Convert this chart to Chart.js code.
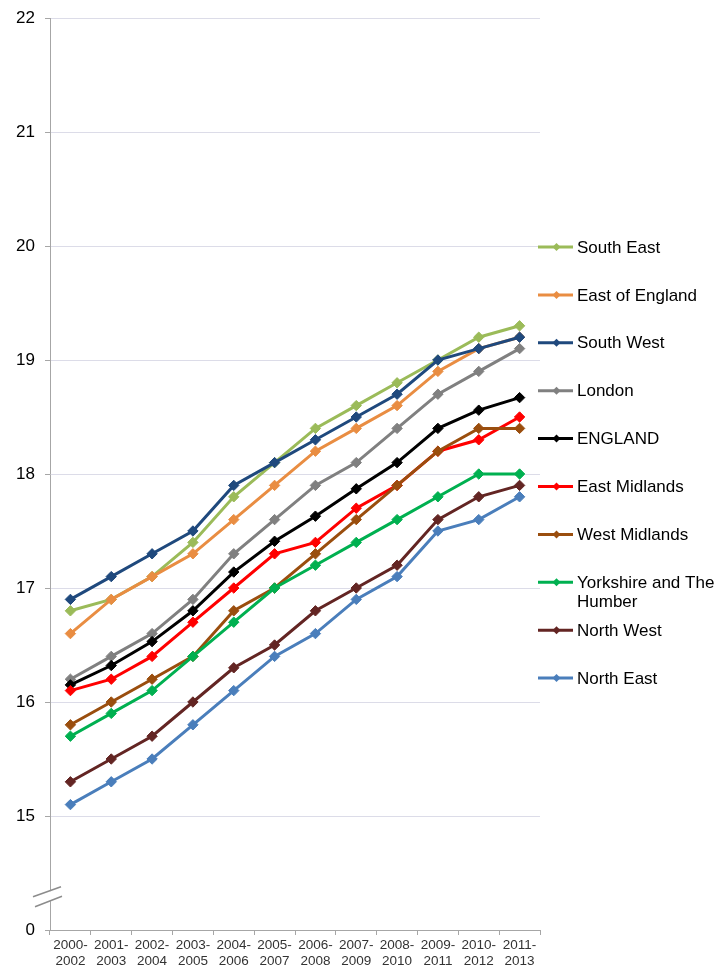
<!DOCTYPE html>
<html><head><meta charset="utf-8">
<script src="https://cdn.jsdelivr.net/npm/chart.js@4.4.0/dist/chart.umd.min.js"></script>
<style>html,body{margin:0;padding:0;background:#fff}#wrap{width:727px;height:967px;position:relative}</style>
</head><body><div id="wrap"><canvas id="c"></canvas></div>
<script>
const categories = [['2000-','2002'],['2001-','2003'],['2002-','2004'],['2003-','2005'],['2004-','2006'],['2005-','2007'],['2006-','2008'],['2007-','2009'],['2008-','2010'],['2009-','2011'],['2010-','2012'],['2011-','2013']];
const seriesNames = ['South East','East of England','South West','London','ENGLAND','East Midlands','West Midlands','Yorkshire and The Humber','North West','North East'];
const seriesColors = ['#9BBB59','#E98D42','#1F497D','#808080','#000000','#FF0000','#9A4E0E','#00B050','#632523','#4A7EBB'];
const southEast     = [16.8,16.9,17.1,17.4,17.8,18.1,18.4,18.6,18.8,19.0,19.2,19.3];
const eastOfEngland = [16.6,16.9,17.1,17.3,17.6,17.9,18.2,18.4,18.6,18.9,19.1,19.2];
const southWest     = [16.9,17.1,17.3,17.5,17.9,18.1,18.3,18.5,18.7,19.0,19.1,19.2];
const london        = [16.2,16.4,16.6,16.9,17.3,17.6,17.9,18.1,18.4,18.7,18.9,19.1];
const england       = [16.15,16.32,16.53,16.8,17.14,17.41,17.63,17.87,18.1,18.4,18.56,18.67];
const eastMidlands  = [16.1,16.2,16.4,16.7,17.0,17.3,17.4,17.7,17.9,18.2,18.3,18.5];
const westMidlands  = [15.8,16.0,16.2,16.4,16.8,17.0,17.3,17.6,17.9,18.2,18.4,18.4];
const yorkshire     = [15.7,15.9,16.1,16.4,16.7,17.0,17.2,17.4,17.6,17.8,18.0,18.0];
const northWest     = [15.3,15.5,15.7,16.0,16.3,16.5,16.8,17.0,17.2,17.6,17.8,17.9];
const northEast     = [15.1,15.3,15.5,15.8,16.1,16.4,16.6,16.9,17.1,17.5,17.6,17.8];
const seriesValues = [southEast,eastOfEngland,southWest,london,england,eastMidlands,westMidlands,yorkshire,northWest,northEast];
const yTickValues = [14,15,16,17,18,19,20,21,22];
const yTickLabels = ['0','15','16','17','18','19','20','21','22'];

const FONT = '"Liberation Sans", Arial, sans-serif';
const N = seriesNames.length;

const datasets = seriesNames.map((name, i) => ({
  label: name,
  data: seriesValues[i],
  borderColor: seriesColors[i],
  backgroundColor: seriesColors[i],
  pointBackgroundColor: seriesColors[i],
  pointBorderColor: seriesColors[i],
  borderWidth: 3,
  pointStyle: 'rectRot',
  pointRadius: 5.2,
  pointBorderWidth: 1,
  tension: 0,
  fill: false,
  order: N - i
}));

const breakPlugin = {
  id: 'axisBreak',
  afterDraw(chart) {
    const ctx = chart.ctx;
    const y = chart.scales.y;
    const x0 = chart.chartArea.left;
    const yc = y.getPixelForValue(14.3);
    ctx.save();
    ctx.fillStyle = '#fff';
    ctx.beginPath();
    ctx.moveTo(x0 - 14, yc + 1);
    ctx.lineTo(x0 + 12, yc - 9);
    ctx.lineTo(x0 + 12, yc + 1);
    ctx.lineTo(x0 - 14, yc + 11);
    ctx.closePath();
    ctx.fill();
    ctx.strokeStyle = '#8C8C8C';
    ctx.lineWidth = 1.5;
    ctx.beginPath();
    ctx.moveTo(x0 - 17, yc + 1); ctx.lineTo(x0 + 11, yc - 9);
    ctx.moveTo(x0 - 15, yc + 11); ctx.lineTo(x0 + 12, yc + 0.5);
    ctx.stroke();
    ctx.restore();
  }
};

const legendPlugin = {
  id: 'sideLegend',
  afterDraw(chart) {
    const ctx = chart.ctx;
    ctx.save();
    ctx.font = '17px ' + FONT;
    ctx.textBaseline = 'middle';
    ctx.textAlign = 'left';
    const lx0 = 538, lx1 = 573, tx = 577, maxW = 727 - tx - 1;
    let yy = 247;
    chart.data.datasets.forEach((ds, i) => {
      ctx.strokeStyle = ds.borderColor;
      ctx.lineWidth = 3;
      ctx.beginPath(); ctx.moveTo(lx0, yy); ctx.lineTo(lx1, yy); ctx.stroke();
      ctx.fillStyle = ds.borderColor;
      const mx = (lx0 + lx1) / 2 + 1, r = 4;
      ctx.beginPath(); ctx.moveTo(mx, yy - r); ctx.lineTo(mx + r, yy); ctx.lineTo(mx, yy + r); ctx.lineTo(mx - r, yy); ctx.closePath(); ctx.fill();
      ctx.fillStyle = '#000';
      const words = ds.label.split(' ');
      const lines = []; let cur = '';
      words.forEach(w => {
        const t = cur ? cur + ' ' + w : w;
        if (ctx.measureText(t).width > maxW && cur) { lines.push(cur); cur = w; } else cur = t;
      });
      lines.push(cur);
      lines.forEach((l, k) => ctx.fillText(l, tx, yy + 1 + k * 19));
      yy += 47.9;
    });
    ctx.restore();
  }
};

new Chart(document.getElementById('c'), {
  type: 'line',
  data: { labels: categories, datasets },
  options: {
    responsive: true,
    maintainAspectRatio: false,
    animation: false,
    layout: { padding: { left: 0, right: 187, top: 18, bottom: 0 } },
    plugins: { legend: { display: false }, tooltip: { enabled: false } },
    scales: {
      x: {
        type: 'category',
        offset: true,
        grid: { display: true, drawOnChartArea: false, drawTicks: true, tickLength: 5, offset: true, color: '#A6A6A6' },
        border: { display: true, color: '#A6A6A6', width: 1 },
        ticks: { font: { size: 13.5, family: FONT, lineHeight: 1.15 }, color: '#333', maxRotation: 0, autoSkip: false, padding: 3 },
        afterFit(s) { s.height = 37; }
      },
      y: {
        min: 14, max: 22,
        afterBuildTicks(s) { s.ticks = yTickValues.map(v => ({ value: v })); },
        grid: {
          color: (c) => c.tick && c.tick.value === 14 ? 'rgba(0,0,0,0)' : '#DCDCE8',
          tickColor: '#A6A6A6',
          tickLength: 5,
          lineWidth: 1
        },
        border: { display: true, color: '#A6A6A6', width: 1 },
        ticks: {
          font: { size: 17, family: FONT },
          color: '#000',
          padding: 10,
          callback: (v) => { const k = yTickValues.indexOf(v); return k >= 0 ? yTickLabels[k] : ''; }
        },
        afterFit(s) { s.width = 50; s.paddingTop = 0; s.paddingBottom = 0; }
      }
    }
  },
  plugins: [breakPlugin, legendPlugin]
});
</script>
</body></html>
